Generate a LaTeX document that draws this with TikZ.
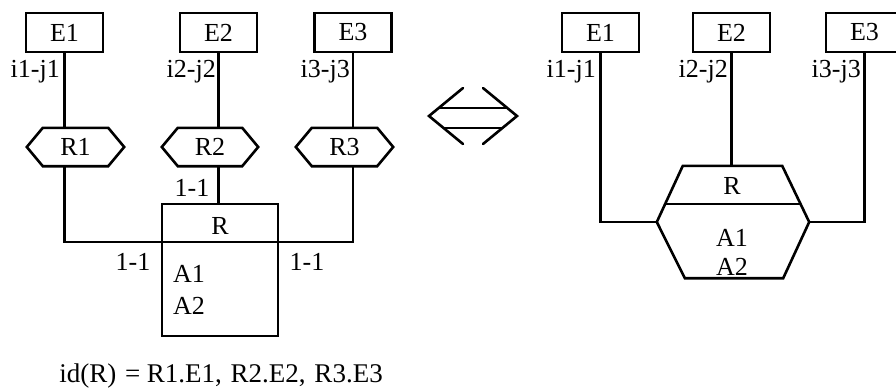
\documentclass[tikz,border=0pt]{standalone}
\usepackage{fontspec}
\setmainfont{Liberation Serif}
\usetikzlibrary{calc}
\tikzset{
  ln/.style={line width=2.6pt, line join=miter},
  ent/.style={draw, line width=2.6pt, minimum width=77pt, minimum height=39pt, inner sep=0pt},
  hexbox/.style={minimum width=#1, minimum height=38pt, inner sep=0pt},
  lbl/.style={inner sep=0pt},
  every node/.style={font=\fontsize{26}{30}\selectfont}
}
\newcommand\hexdraw[2]{%
  \draw[ln] (#1.west) -- ([xshift=#2]#1.north west) -- ([xshift=-#2]#1.north east) -- (#1.east)
    -- ([xshift=-#2]#1.south east) -- ([xshift=#2]#1.south west) -- cycle;}
\begin{document}
\begin{tikzpicture}[x=1pt,y=-1pt]
\clip (0,0) rectangle (896,389);
\fill[white] (0,0) rectangle (896,389);
% ---------- left diagram ----------
\node[ent] (E1) at (64.5,32.5) {E1};
\node[ent] (E2) at (218.5,32.5) {E2};
\node[ent] (E3) at (353,32.5) {E3};
\node[hexbox=97pt] (R1) at (75.5,147) {R1};
\node[hexbox=96pt] (R2) at (210,147) {R2};
\node[hexbox=97pt] (R3) at (344.5,147) {R3};
\hexdraw{R1}{16pt}
\hexdraw{R2}{16pt}
\hexdraw{R3}{16pt}
\node[draw, line width=2.6pt, minimum width=116pt, minimum height=132pt, inner sep=0pt] (RB) at (220,270) {};
\coordinate (RBdl) at (162,242);
\coordinate (RBdr) at (278,242);
\node[lbl] (RBt) at (220,226) {R};
\node[lbl, anchor=west] (A1) at (173,274) {A1};
\node[lbl, anchor=west] (A2) at (173,306) {A2};
\draw[ln] (RBdl) -- (RBdr);
\draw[ln] (E1.south) -- (E1.south |- R1.north);
\draw[ln] (E2.south) -- (E2.south |- R2.north);
\draw[ln] (E3.south) -- (E3.south |- R3.north);
\draw[ln] (E1.south |- R1.south) |- (RBdl);
\draw[ln] (E3.south |- R3.south) |- (RBdr);
\draw[ln] (E2.south |- R2.south) -- (E2.south |- RB.north);
\node[lbl, anchor=east] (c1) at (60,72) {i1-j1};
\node[lbl, anchor=east] (c2) at (216,72) {i2-j2};
\node[lbl, anchor=east] (c3) at (350,72) {i3-j3};
\node[lbl] (k2) at (192,188) {1-1};
\node[lbl] (k1) at (133,262) {1-1};
\node[lbl] (k3) at (307,262) {1-1};
\node[lbl, font=\fontsize{27}{30}\selectfont] (idR) at (221,376) {id(R)\hspace{2pt} = R1.E1,\hspace{2pt} R2.E2,\hspace{2pt} R3.E3};
% ---------- equivalence arrow ----------
\coordinate (tl) at (429,116);
\coordinate (tlu) at (463,88);
\coordinate (tld) at (463,144);
\coordinate (tr) at (517,116);
\coordinate (tru) at (483,88);
\coordinate (trd) at (483,144);
\draw[ln, line cap=round] (tlu) -- (tl) -- (tld);
\draw[ln, line cap=round] (tru) -- (tr) -- (trd);
\draw[ln] ($(tl)!0.286!(tlu)$) -- ($(tr)!0.286!(tru)$);
\draw[ln] ($(tl)!0.43!(tld)$) -- ($(tr)!0.43!(trd)$);
% ---------- right diagram ----------
\node[ent] (F1) at (600.5,32.5) {E1};
\node[ent] (F2) at (731.5,32.5) {E2};
\node[ent] (F3) at (864.5,32.5) {E3};
\node[minimum width=152pt, minimum height=112pt, inner sep=0pt] (RH) at (733,222) {};
\coordinate (hul) at ([xshift=26pt]RH.north west);
\coordinate (hur) at ([xshift=-27pt]RH.north east);
\coordinate (hdl) at ([xshift=28pt]RH.south west);
\coordinate (hdr) at ([xshift=-26pt]RH.south east);
\draw[ln] (RH.west) -- (hul) -- (hur) -- (RH.east) -- (hdr) -- (hdl) -- cycle;
\draw[ln] ($(hul)!0.68!(RH.west)$) -- ($(hur)!0.68!(RH.east)$);
\node[lbl] (RHt) at (732,186) {R};
\node[lbl] (B1) at (732,238) {A1};
\node[lbl] (B2) at (732,267) {A2};
\draw[ln] (F1.south) |- (RH.west);
\draw[ln] (F3.south) |- (RH.east);
\draw[ln] (F2.south) -- (F2.south |- RH.north);
\node[lbl, anchor=east] (d1) at (596,72) {i1-j1};
\node[lbl, anchor=east] (d2) at (728,72) {i2-j2};
\node[lbl, anchor=east] (d3) at (861,72) {i3-j3};
\end{tikzpicture}
\end{document}
